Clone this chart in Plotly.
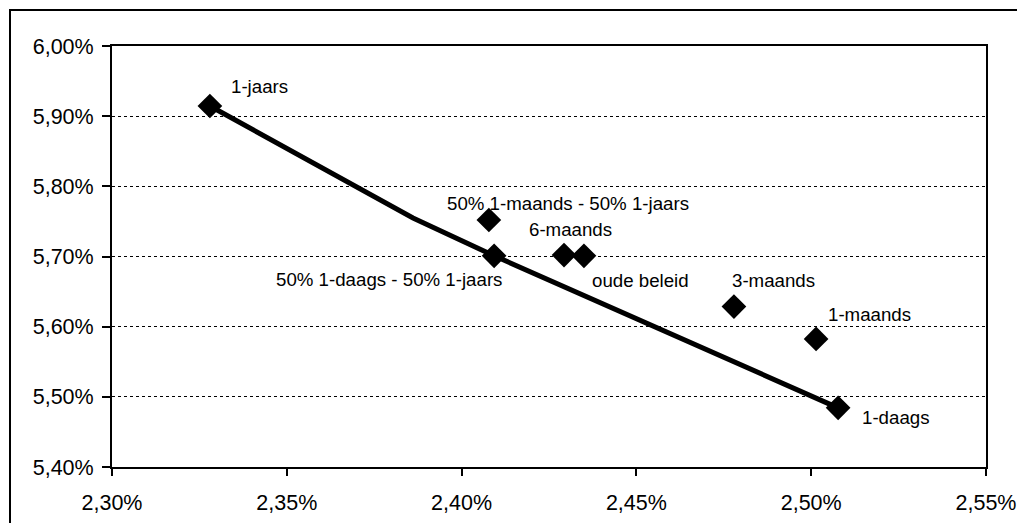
import plotly.graph_objects as go

# Scatter points (x = risk %, y = return %)
labels = ["1-jaars", "50% 1-maands - 50% 1-jaars", "50% 1-daags - 50% 1-jaars",
          "6-maands", "oude beleid", "3-maands", "1-maands", "1-daags"]
x_vals = [2.328, 2.4078, 2.4093, 2.4293, 2.435, 2.4779, 2.5014, 2.5077]
y_vals = [5.9145, 5.752, 5.701, 5.702, 5.701, 5.6286, 5.5826, 5.4843]

# Frontier line
frontier_x = [2.328, 2.3861, 2.4093, 2.5077]
frontier_y = [5.9145, 5.755, 5.701, 5.4843]

# label offsets in pixels (dx, dy; dy positive = down)
label_dx = [50, 79, -105, 6, 57, 40, 53, 58]
label_dy = [-19, -17, 24, -26, 25, -26, -24, 10]

fig = go.Figure()
fig.add_trace(go.Scatter(x=frontier_x, y=frontier_y, mode="lines",
                         line=dict(color="black", width=5), hoverinfo="skip",
                         showlegend=False))
fig.add_trace(go.Scatter(x=x_vals, y=y_vals, mode="markers",
                         marker=dict(symbol="diamond", size=19, color="black",
                                     line=dict(width=0)),
                         text=labels, showlegend=False))

for lab, x, y, dx, dy in zip(labels, x_vals, y_vals, label_dx, label_dy):
    fig.add_annotation(x=x, y=y, text=lab, showarrow=False,
                       xshift=dx, yshift=-dy, xanchor="center", yanchor="middle",
                       font=dict(family="Liberation Sans, Arial", size=18.7, color="black"))

# outer chart border (extends past canvas at right/bottom)
fig.add_shape(type="rect", xref="paper", yref="paper",
              x0=(10 - 112) / 874, x1=(1060 - 112) / 874,
              y0=(467 - 560) / 421, y1=(467 - 10) / 421,
              line=dict(color="black", width=2), layer="below")

# page body has an 8px margin; size the figure so the plot area lands right
fig.update_layout(
    width=1009, height=515,
    margin=dict(l=104, r=31, t=38, b=56),
    paper_bgcolor="white", plot_bgcolor="white",
    separators=",.",
    font=dict(family="Liberation Sans, Arial", color="black"),
    showlegend=False,
)
fig.update_xaxes(range=[2.30, 2.55], dtick=0.05, tick0=2.30, tickformat=".2f",
                 ticksuffix="%", showgrid=False, zeroline=False, automargin=False,
                 showline=True, linecolor="black", linewidth=2, mirror=True,
                 ticks="outside", ticklen=7, tickwidth=2, tickcolor="black",
                 tickfont=dict(size=21.5), ticklabelstandoff=8)
fig.update_yaxes(range=[5.40, 6.00], dtick=0.1, tick0=5.40, tickformat=".2f",
                 ticksuffix="%", showgrid=True, gridcolor="black", gridwidth=1,
                 griddash="dot", zeroline=False, automargin=False,
                 showline=True, linecolor="black", linewidth=2, mirror=True,
                 ticks="outside", ticklen=8, tickwidth=2, tickcolor="black",
                 tickfont=dict(size=21.5), ticklabelstandoff=4)

fig.write_html("out.html")
